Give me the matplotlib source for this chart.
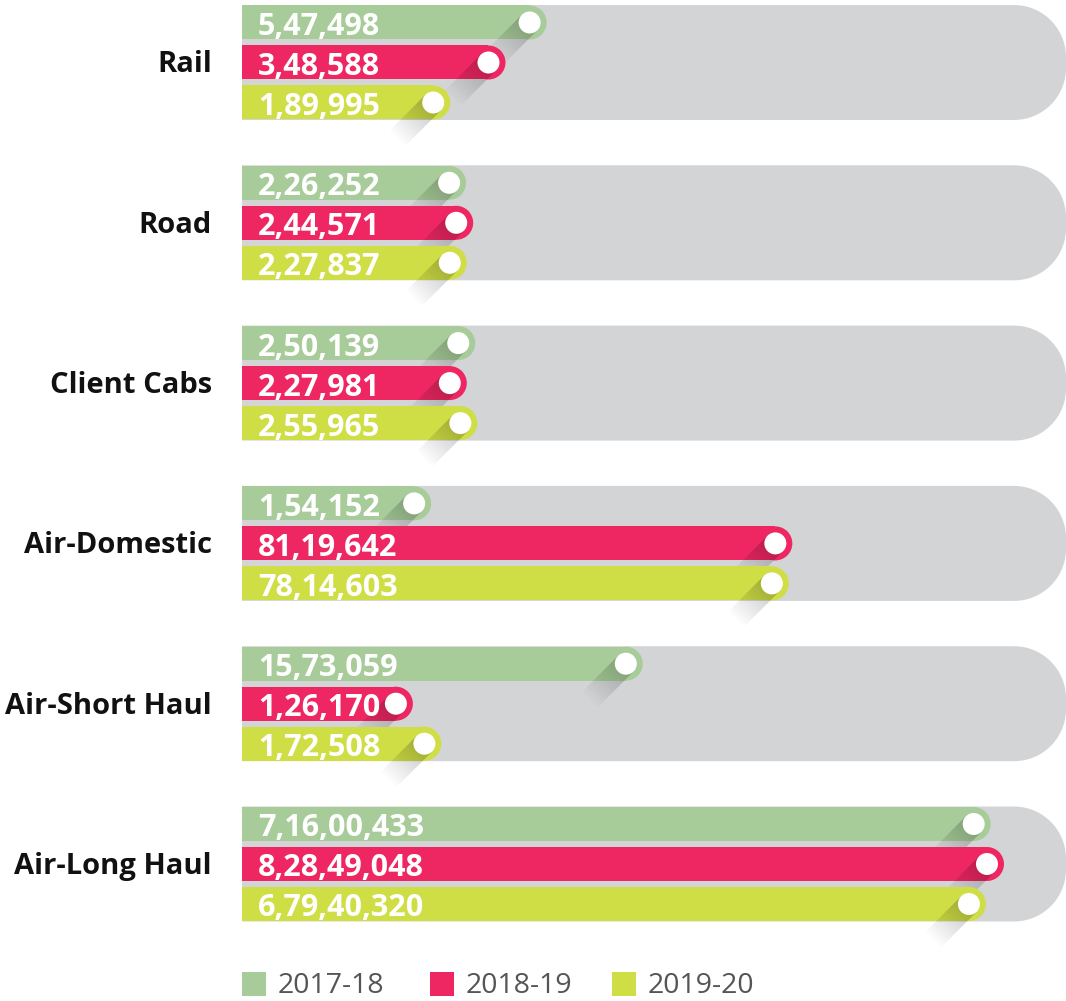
import numpy as np
import matplotlib.pyplot as plt
from matplotlib.patches import Circle, Polygon, Rectangle
from matplotlib.transforms import IdentityTransform

categories = ['Rail', 'Road', 'Client Cabs', 'Air-Domestic', 'Air-Short Haul', 'Air-Long Haul']
years = ['2017-18', '2018-19', '2019-20']
fy18 = [547498, 226252, 250139, 154152, 1573059, 71600433]
fy19 = [348588, 244571, 227981, 8119642, 126170, 82849048]
fy20 = [189995, 227837, 255965, 7814603, 172508, 67940320]
series = [fy18, fy19, fy20]
colors = ['#a8cc99', '#ee2763', '#d0de45']
bg_grey = '#d3d4d6'


def indian(n):
    # 1234567 -> 12,34,567
    s = str(n)
    if len(s) <= 3:
        return s
    head, tail = s[:-3], s[-3:]
    groups = []
    while len(head) > 2:
        groups.insert(0, head[-2:])
        head = head[:-2]
    if head:
        groups.insert(0, head)
    return ','.join(groups + [tail])


W, H = 1066, 1001
fig = plt.figure(figsize=(W / 100, H / 100), dpi=100)

# log scale axis, bar ends follow log10 of value
x0_px = 242
px_per_dec = 209.8
xmin = 10 ** 4.3674
xmax = xmin * 10 ** ((W - x0_px) / px_per_dec)
ax = fig.add_axes([x0_px / W, 0, 1 - x0_px / W, 1])
ax.set_xscale('log')
ax.set_xlim(xmin, xmax)
group_px, first_px = 160.3, 62.5
ax.set_ylim((H - first_px) / group_px, -first_px / group_px)
ax.axis('off')

bar_h_px, step_px = 34, 40
offsets = [-step_px / group_px, 0, step_px / group_px]
ident = IdentityTransform()

# grey rounded backgrounds
for i in range(len(categories)):
    xl, yc = ax.transData.transform((xmin, i))
    xr, hh, r = W, 57.5, 52
    top = [(xl, yc + hh), (xr - r, yc + hh)]
    a1 = np.linspace(np.pi / 2, 0, 20)
    arc1 = list(zip(xr - r + r * np.cos(a1), yc + hh - r + r * np.sin(a1)))
    a2 = np.linspace(0, -np.pi / 2, 20)
    arc2 = list(zip(xr - r + r * np.cos(a2), yc - hh + r + r * np.sin(a2)))
    pts = top + arc1 + arc2 + [(xl, yc - hh)]
    ax.add_patch(Polygon(pts, closed=True, facecolor=bg_grey, edgecolor='none',
                         transform=ident, clip_on=False, zorder=0.5))

d = np.array([-1.0, -1.0]) / np.sqrt(2)
nvec = np.array([1.0, -1.0]) / np.sqrt(2)
dot_r, shadow_len, nstrip = 11, 50, 14

for k, vals in enumerate(series):
    z = 2 + 2 * k
    ys = np.arange(len(categories)) + offsets[k]
    ax.barh(ys, np.array(vals) - xmin, left=xmin, height=bar_h_px / group_px,
            color=colors[k], zorder=z)
    for y, v in zip(ys, vals):
        cx, cy = ax.transData.transform((v, y))
        ax.add_patch(Circle((cx, cy), bar_h_px / 2, facecolor=colors[k], edgecolor='none',
                            transform=ident, clip_on=False, zorder=z))
        c = np.array([cx, cy])
        ts = np.linspace(0, shadow_len, nstrip + 1)
        for j in range(nstrip):
            p = [c + nvec * dot_r + d * ts[j], c + nvec * dot_r + d * ts[j + 1],
                 c - nvec * dot_r + d * ts[j + 1], c - nvec * dot_r + d * ts[j]]
            alpha = 0.22 * (1 - j / nstrip)
            ax.add_patch(Polygon(p, closed=True, facecolor='black', alpha=alpha,
                                 edgecolor='none', transform=ident, clip_on=False,
                                 zorder=z + 1))
        ax.add_patch(Circle((cx, cy), dot_r, facecolor='white', edgecolor='none',
                            transform=ident, clip_on=False, zorder=20))
        ax.annotate(indian(v), xy=(xmin, y), xytext=(16 * 0.72, -4.5 * 0.72),
                    textcoords='offset points', ha='left', va='center',
                    color='white', fontsize=22, fontweight='bold',
                    family='Open Sans', zorder=21, annotation_clip=False)

for i, cat in enumerate(categories):
    ax.annotate(cat, xy=(xmin, i), xytext=(-30 * 0.72, -2.5 * 0.72),
                textcoords='offset points', ha='right', va='center',
                color='#111111', fontsize=21, fontweight='bold',
                family='Open Sans', annotation_clip=False)

# legend
leg_x = [242, 430, 612]
for lx, yr, col in zip(leg_x, years, colors):
    fig.add_artist(Rectangle((lx, H - 996), 24, 24, facecolor=col, edgecolor='none',
                             transform=ident))
    fig.text((lx + 36) / W, 1 - 986 / H, yr, ha='left', va='center',
             color='#555555', fontsize=20.5, family='Open Sans')

fig.savefig('out.png', dpi=100)
